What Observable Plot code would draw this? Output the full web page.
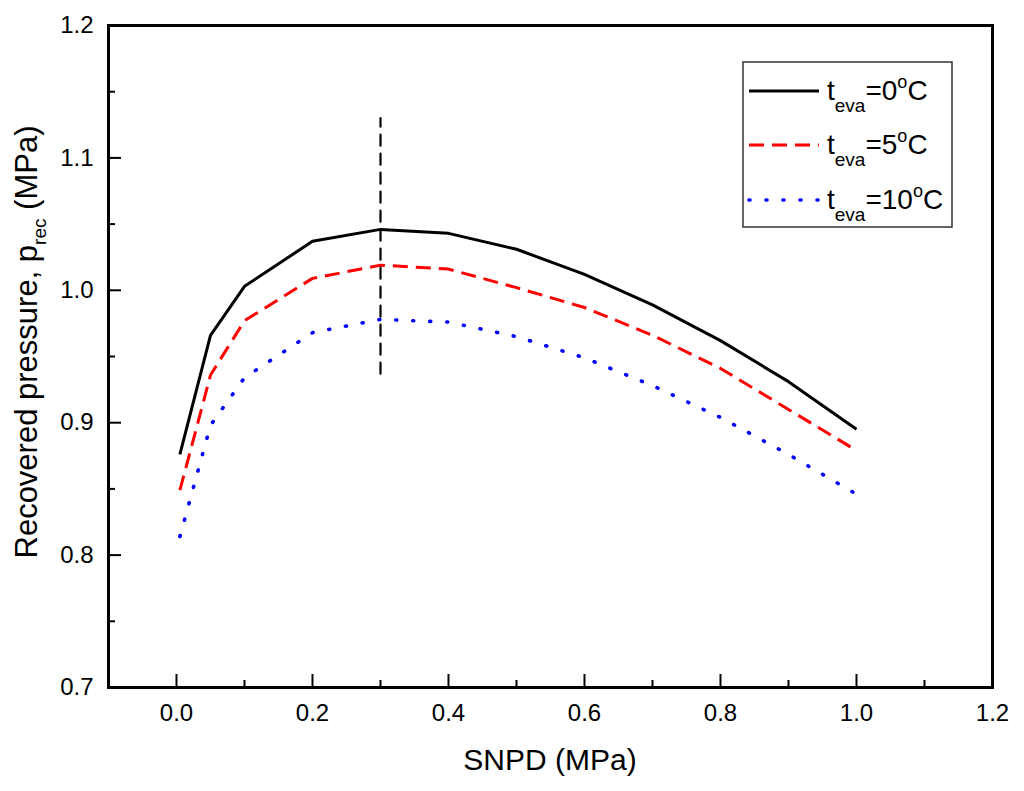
<!DOCTYPE html>
<html>
<head>
<meta charset="utf-8">
<script src="https://cdn.jsdelivr.net/npm/d3@7"></script>
<script src="https://cdn.jsdelivr.net/npm/@observablehq/plot@0.6"></script>
<style>
  body { margin: 0; background: #fff; }
  #chart { position: relative; width: 1024px; height: 791px; }
</style>
</head>
<body>
<div id="chart"></div>
<script>
// SNPD values (MPa) and recovered pressure per evaporation temperature
const snpd = [0.005, 0.05, 0.1, 0.2, 0.3, 0.4, 0.5, 0.6, 0.7, 0.8, 0.9, 1.0];
const pTeva0 = [0.876, 0.966, 1.003, 1.037, 1.046, 1.043, 1.031, 1.012, 0.989, 0.962, 0.931, 0.895];
const pTeva5 = [0.849, 0.936, 0.977, 1.009, 1.019, 1.016, 1.002, 0.987, 0.966, 0.941, 0.910, 0.879];
const pTeva10 = [0.814, 0.898, 0.934, 0.968, 0.978, 0.976, 0.965, 0.949, 0.928, 0.904, 0.876, 0.846];
const tevaLabels = ["0", "5", "10"];

// vertical marker at the optimum SNPD
const markerX = [0.3, 0.3];
const markerY = [0.937, 1.13];

const xMajor = [0, 0.2, 0.4, 0.6, 0.8, 1.0, 1.2];
const xMinor = [0.1, 0.3, 0.5, 0.7, 0.9, 1.1];
const yMajor = [0.7, 0.8, 0.9, 1.0, 1.1, 1.2];
const yMinor = [0.75, 0.85, 0.95, 1.05, 1.15];

const W = 1024, H = 791;
const mL = 108, mR = 32, mT = 25, mB = 104;
const frameW = W - mL - mR, frameH = H - mT - mB;

const toRows = ys => snpd.map((x, i) => ({x: x, y: ys[i]}));
const styles = [
  {color: "#000000", dash: null, cap: "butt", width: 3},
  {color: "#ff0000", dash: "15,8", cap: "butt", width: 3},
  {color: "#0000ff", dash: "1,16", cap: "round", width: 3.6}
];
const series = [pTeva0, pTeva5, pTeva10];

const chart = Plot.plot({
  width: W,
  height: H,
  marginLeft: mL,
  marginRight: mR,
  marginTop: mT,
  marginBottom: mB,
  style: {fontFamily: "'Liberation Sans', Arial, sans-serif", color: "#000", background: "#fff"},
  x: {domain: [-0.1, 1.2]},
  y: {domain: [0.7, 1.2]},
  marks: [
    ...series.map((ys, i) => Plot.line(toRows(ys), {
      x: "x", y: "y",
      stroke: styles[i].color,
      strokeWidth: styles[i].width,
      strokeDasharray: styles[i].dash,
      strokeLinecap: styles[i].cap,
      strokeLinejoin: "miter"
    })),
    Plot.line(markerX.map((x, i) => ({x: x, y: markerY[i]})), {
      x: "x", y: "y", stroke: "#000", strokeWidth: 2.2, strokeDasharray: "11,8"
    }),
    // inward ticks
    Plot.tickX(xMajor, {x: d => d, insetTop: frameH - 13, strokeWidth: 2}),
    Plot.tickX(xMinor, {x: d => d, insetTop: frameH - 7, strokeWidth: 2}),
    Plot.tickY(yMajor, {y: d => d, insetRight: frameW - 13, strokeWidth: 2}),
    Plot.tickY(yMinor, {y: d => d, insetRight: frameW - 7, strokeWidth: 2}),
    Plot.axisX({ticks: xMajor, tickSize: 0, tickPadding: 16, tickFormat: d3.format(".1f"), fontSize: 24, label: null}),
    Plot.axisY({ticks: yMajor, tickSize: 0, tickPadding: 15, tickFormat: d3.format(".1f"), fontSize: 24, label: null}),
    Plot.frame({stroke: "#000", strokeWidth: 3})
  ]
});

d3.select('#chart').append(() => chart);

const svg = d3.select(chart);

// axis titles (with subscript)
svg.append("text")
  .attr("x", mL + frameW / 2).attr("y", 770)
  .attr("text-anchor", "middle")
  .attr("font-size", 30)
  .attr("fill", "#000")
  .text("SNPD (MPa)");

const yl = svg.append("text")
  .attr("transform", "translate(37," + 342 + ") rotate(-90)")
  .attr("text-anchor", "middle")
  .attr("font-size", 31)
  .attr("fill", "#000");
yl.append("tspan").text("Recovered pressure, p");
yl.append("tspan").attr("font-size", 19).attr("dy", 9).text("rec");
yl.append("tspan").attr("dy", -9).text(" (MPa)");

// legend box
const lg = svg.append("g").attr("text-anchor", "start");
lg.append("rect")
  .attr("x", 743).attr("y", 62).attr("width", 209).attr("height", 165)
  .attr("fill", "#fff").attr("stroke", "#333").attr("stroke-width", 1.5);

const rowY = [91, 145, 200];
tevaLabels.forEach((t, i) => {
  lg.append("line")
    .attr("x1", 749).attr("x2", 819).attr("y1", rowY[i]).attr("y2", rowY[i])
    .attr("stroke", styles[i].color).attr("stroke-width", styles[i].width)
    .attr("stroke-linecap", styles[i].cap)
    .attr("stroke-dasharray", styles[i].dash);
  const tx = lg.append("text")
    .attr("x", 827).attr("y", rowY[i] + 9)
    .attr("text-anchor", "start")
    .attr("font-size", 28).attr("fill", "#000");
  tx.append("tspan").text("t");
  tx.append("tspan").attr("font-size", 19).attr("dy", 12).text("eva");
  tx.append("tspan").attr("dy", -12).text("=" + t);
  tx.append("tspan").attr("font-size", 18).attr("dy", -12).text("o");
  tx.append("tspan").attr("dy", 12).text("C");
});
</script>
</body>
</html>
